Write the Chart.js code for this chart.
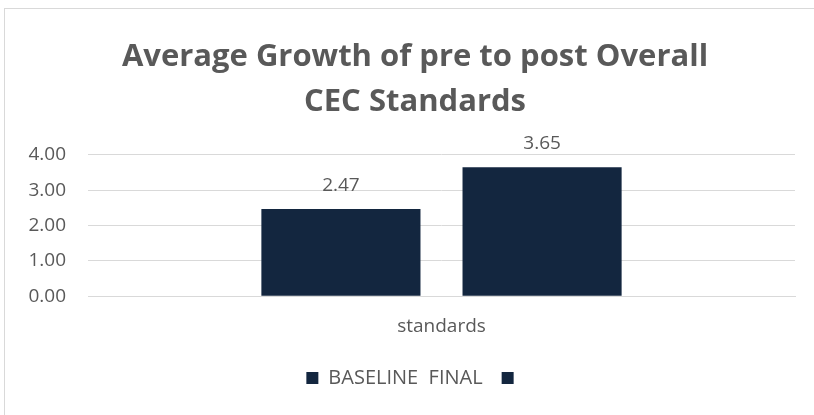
<!DOCTYPE html>
<html>
<head>
<meta charset="utf-8">
<script src="https://cdn.jsdelivr.net/npm/chart.js@4"></script>
<style>
  html, body { margin: 0; padding: 0; background: #fff; overflow: hidden; }
  #frame { position: absolute; left: 4px; top: 8px; width: 830px; height: 430px; border: 1px solid #d9d9d9; }
  #wrap { position: absolute; left: 0; top: 0; width: 814px; height: 415px; }
</style>
</head>
<body>
<div id="frame"></div>
<div id="wrap"><canvas id="chart"></canvas></div>
<script>
const categories = ["standards"];
const seriesNames = ["BASELINE  FINAL", ""];
const baselineValues = [2.47];
const finalValues = [3.65];
const titleLines = ["Average Growth of pre to post Overall", "CEC Standards"];

const fontFamily = "'Open Sans', 'Liberation Sans', sans-serif";
const grey = "#595959";
const navy = "#13263f";

// étiquettes de valeurs au-dessus des barres
const valueLabels = {
  id: "valueLabels",
  afterLayout(chart) {
    // laisser les étiquettes de l'axe y déborder dans la marge gauche
    chart.scales.y.left = 0;
  },
  afterDatasetsDraw(chart) {
    const ctx = chart.ctx;
    ctx.save();
    ctx.font = "19px " + fontFamily;
    ctx.fillStyle = grey;
    ctx.textAlign = "center";
    ctx.textBaseline = "bottom";
    chart.data.datasets.forEach((ds, i) => {
      chart.getDatasetMeta(i).data.forEach((bar, j) => {
        ctx.fillText(ds.data[j].toFixed(2), bar.x, bar.y - 14);
      });
    });
    ctx.restore();
  }
};

new Chart(document.getElementById("chart"), {
  type: "bar",
  data: {
    labels: categories,
    datasets: [
      { label: seriesNames[0], data: baselineValues, backgroundColor: navy },
      { label: seriesNames[1], data: finalValues, backgroundColor: navy }
    ]
  },
  options: {
    responsive: true,
    maintainAspectRatio: false,
    animation: false,
    categoryPercentage: 0.569,
    barPercentage: 0.791,
    layout: { padding: { left: 35, right: 19, top: 10, bottom: 17 } },
    plugins: {
      title: {
        display: true,
        text: titleLines,
        color: grey,
        font: { family: fontFamily, size: 31, weight: "bold", lineHeight: 1.45 },
        padding: { top: 25, bottom: 30 }
      },
      legend: {
        position: "bottom",
        labels: {
          color: grey,
          font: { family: fontFamily, size: 20 },
          boxWidth: 12,
          boxHeight: 12,
          padding: 19
        }
      },
      tooltip: { enabled: false }
    },
    scales: {
      x: {
        grid: { display: false },
        border: { color: "#d9d9d9" },
        ticks: { color: grey, font: { family: fontFamily, size: 19 }, padding: 11 }
      },
      y: {
        min: 0,
        max: 4,
        afterFit: (scale) => { scale.width = 53; },
        ticks: {
          stepSize: 1,
          color: grey,
          font: { family: fontFamily, size: 19 },
          padding: 22,
          callback: (v) => v.toFixed(2)
        },
        grid: { color: "#d9d9d9", drawTicks: false },
        border: { display: false }
      }
    }
  },
  plugins: [valueLabels]
});
</script>
</body>
</html>
